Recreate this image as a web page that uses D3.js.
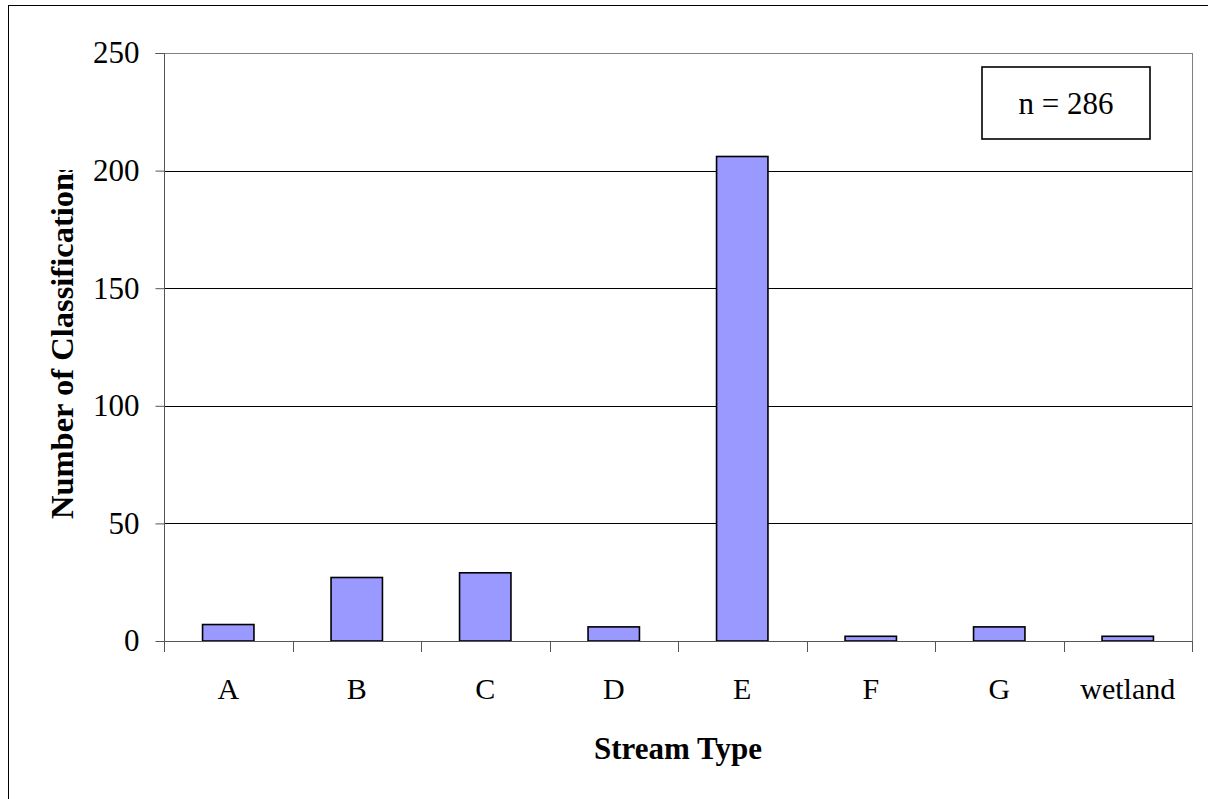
<!DOCTYPE html>
<html><head><meta charset="utf-8">
<script src="https://cdn.jsdelivr.net/npm/d3@7"></script>
<style>body{margin:0;background:#fff}svg{display:block}</style>
</head><body>
<svg id="c" width="1208" height="799"></svg>
<script>
const categories = ["A","B","C","D","E","F","G","wetland"];
const counts = [7, 27, 29, 6, 206, 2, 6, 2];
const yTicks = [0, 50, 100, 150, 200, 250];
const nLabel = "n = 286";
const xTitle = "Stream Type";
const yTitle = "Number of Classifications";

const svg = d3.select("#c");
const font = "'Liberation Serif','Times New Roman',serif";
const L = 164, R = 1192, T = 53, B = 641;

svg.append("rect").attr("x",8.5).attr("y",5.5).attr("width",1210).attr("height",810)
  .attr("fill","none").attr("stroke","#000").attr("stroke-width",1);

const x = d3.scaleBand().domain(categories).range([L,R]).paddingInner(0.6).paddingOuter(0.3);
const xb = d3.scaleBand().domain(categories).range([L,R]);
const y = d3.scaleLinear().domain([0,250]).range([B,T]);

// gridlines
svg.append("g").selectAll("line").data(yTicks.filter(d=>d>0)).join("line")
  .attr("x1",L).attr("x2",R).attr("y1",d=>Math.round(y(d))+0.5).attr("y2",d=>Math.round(y(d))+0.5)
  .attr("stroke",d=>d===250?"#808080":"#000").attr("stroke-width",1);
// right border
svg.append("line").attr("x1",R+0.5).attr("x2",R+0.5).attr("y1",T).attr("y2",B)
  .attr("stroke","#808080");

// bars
svg.append("g").selectAll("rect").data(counts).join("rect")
  .attr("x",(d,i)=>x(categories[i])).attr("width",x.bandwidth())
  .attr("y",d=>y(d)).attr("height",d=>B-y(d))
  .attr("fill","#9999FF").attr("stroke","#000").attr("stroke-width",1.6);

// y axis
const ya = d3.axisLeft(y).tickValues(yTicks).tickSize(9).tickPadding(16).tickFormat(d3.format("d"));
const gy = svg.append("g").attr("transform",`translate(${L+0.5},0)`).call(ya);
gy.select(".domain").attr("stroke","#555").attr("d",`M-9,${T+0.5}H0V${B+11}`);
gy.selectAll(".tick line").attr("stroke","#555");
gy.selectAll(".tick text").attr("font-family",font).attr("font-size",31).attr("fill","#000");

// x axis
const xa = d3.axisBottom(xb).tickSize(0).tickPadding(36);
const gx = svg.append("g").attr("transform",`translate(0,${B+0.5})`).call(xa);
gx.select(".domain").attr("stroke","#555").attr("d",`M${L},0H${R+1}`);
gx.selectAll(".tick text").attr("font-family",font).attr("font-size",30).attr("fill","#000");
// x boundary ticks
const bounds = categories.map(c=>xb(c)).concat([R]);
svg.append("g").selectAll("line").data(bounds).join("line")
  .attr("x1",d=>Math.round(d)+0.5).attr("x2",d=>Math.round(d)+0.5).attr("y1",B).attr("y2",B+11)
  .attr("stroke","#555");

// axis titles
svg.append("text").attr("x",(L+R)/2).attr("y",759).attr("text-anchor","middle")
  .attr("font-family",font).attr("font-size",31).attr("font-weight","bold").text(xTitle);

svg.append("clipPath").attr("id","yclip").append("rect").attr("x",0).attr("y",170).attr("width",160).attr("height",500);
svg.append("g").attr("clip-path","url(#yclip)")
  .append("text")
  .attr("transform","translate(73,519) rotate(-90)").attr("text-anchor","start")
  .attr("font-family",font).attr("font-size",32.5).attr("font-weight","bold").text(yTitle);

// n box
svg.append("rect").attr("x",982).attr("y",67).attr("width",168).attr("height",72)
  .attr("fill","#fff").attr("stroke","#000").attr("stroke-width",1.6);
svg.append("text").attr("x",1066).attr("y",114).attr("text-anchor","middle")
  .attr("font-family",font).attr("font-size",31).text(nLabel);
</script>
</body></html>
